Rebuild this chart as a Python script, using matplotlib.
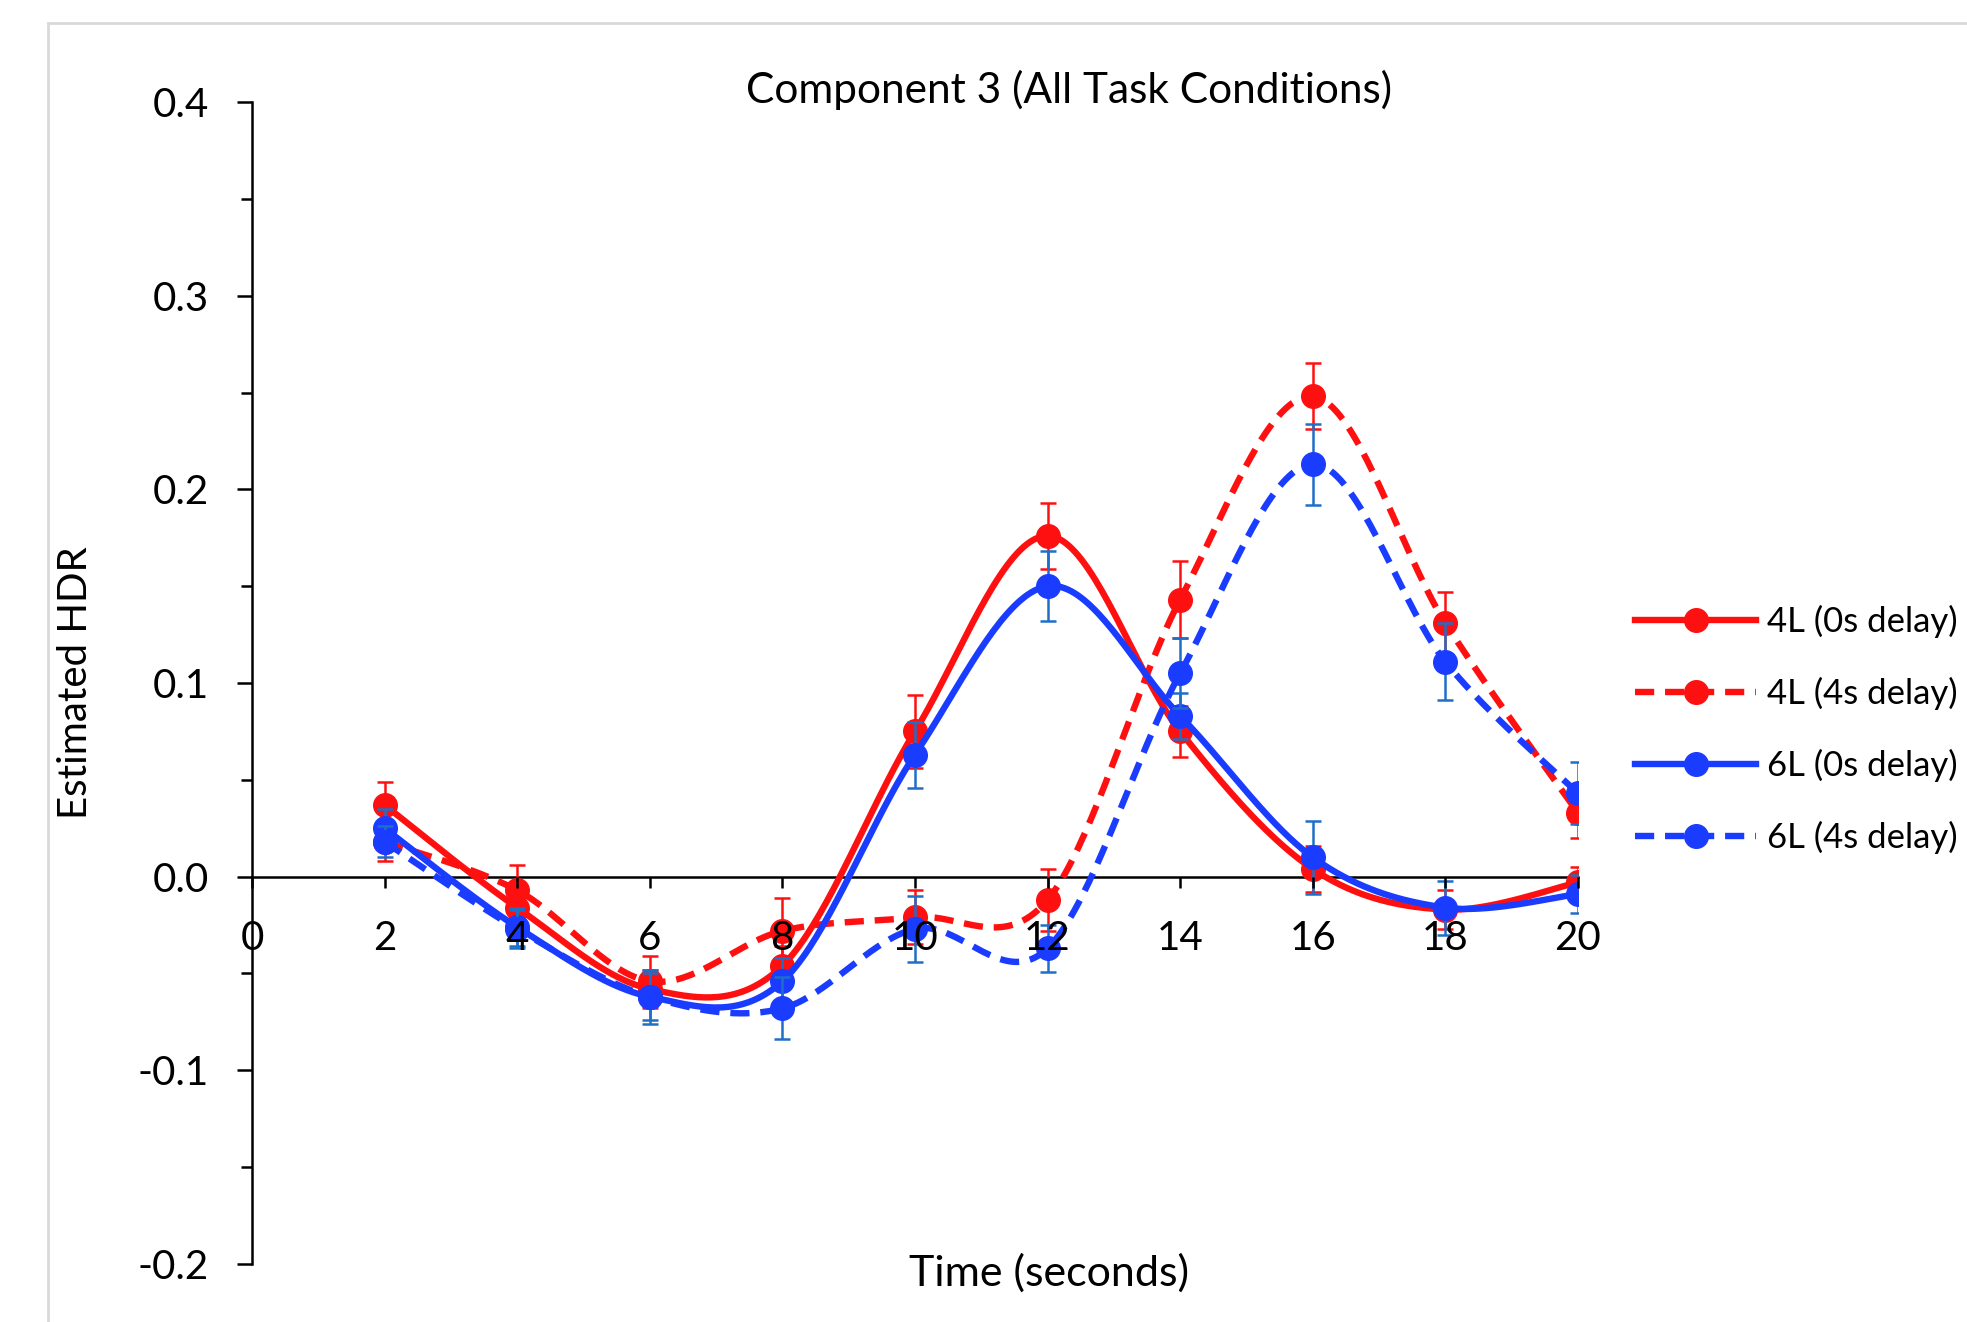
import numpy as np
import matplotlib
matplotlib.use("Agg")
import matplotlib.pyplot as plt
from matplotlib.patches import Rectangle
from matplotlib.ticker import MultipleLocator, FuncFormatter

plt.rcParams['font.family'] = ['Lato', 'DejaVu Sans']

# data
time = [2, 4, 6, 8, 10, 12, 14, 16, 18, 20]

l4_0s = [0.037, -0.016, -0.058, -0.046, 0.075, 0.176, 0.075, 0.004, -0.017, -0.003]
l4_0s_err = [0.012, 0.010, 0.010, 0.010, 0.019, 0.017, 0.013, 0.012, 0.010, 0.008]

l4_4s = [0.018, -0.007, -0.054, -0.028, -0.021, -0.012, 0.143, 0.248, 0.131, 0.033]
l4_4s_err = [0.010, 0.013, 0.013, 0.017, 0.014, 0.016, 0.020, 0.017, 0.016, 0.013]

l6_0s = [0.025, -0.026, -0.062, -0.054, 0.063, 0.150, 0.083, 0.010, -0.016, -0.009]
l6_0s_err = [0.010, 0.010, 0.012, 0.012, 0.017, 0.018, 0.012, 0.019, 0.014, 0.010]

l6_4s = [0.018, -0.027, -0.062, -0.068, -0.027, -0.037, 0.105, 0.213, 0.111, 0.043]
l6_4s_err = [0.008, 0.010, 0.014, 0.016, 0.017, 0.012, 0.018, 0.021, 0.020, 0.016]

labels = ['4L (0s delay)', '4L (4s delay)', '6L (0s delay)', '6L (4s delay)']

RED = '#ff1010'
BLUE = '#1a3cff'
ERR_BLUE = '#1f6fc8'


def smooth(xs, ys, n=40):
    # Excel-style smoothed line (Catmull-Rom as cubic bezier)
    xs = np.asarray(xs, float)
    ys = np.asarray(ys, float)
    px = np.concatenate([[xs[0]], xs, [xs[-1]]])
    py = np.concatenate([[ys[0]], ys, [ys[-1]]])
    outx, outy = [], []
    t = np.linspace(0, 1, n)
    for i in range(1, len(px) - 2):
        p0 = np.array([px[i], py[i]])
        p3 = np.array([px[i + 1], py[i + 1]])
        p1 = p0 + (np.array([px[i + 1], py[i + 1]]) - np.array([px[i - 1], py[i - 1]])) / 6
        p2 = p3 - (np.array([px[i + 2], py[i + 2]]) - np.array([px[i], py[i]])) / 6
        b = ((1 - t) ** 3)[:, None] * p0 + (3 * (1 - t) ** 2 * t)[:, None] * p1 \
            + (3 * (1 - t) * t ** 2)[:, None] * p2 + (t ** 3)[:, None] * p3
        outx.extend(b[:, 0])
        outy.extend(b[:, 1])
    return outx, outy


fig = plt.figure(figsize=(19.67, 13.22), dpi=100)
ax = fig.add_axes([0.1281, 0.0439, 0.6741, 0.8789])

# light chart-area frame
fig.patches.append(Rectangle((48 / 1967, -0.1), 1.2, 1 - 23 / 1322 + 0.1,
                             transform=fig.transFigure, fill=False,
                             edgecolor='#d9d9d9', lw=2, zorder=0))

series = [
    (l4_0s, l4_0s_err, RED, RED, '-'),
    (l4_4s, l4_4s_err, RED, RED, '--'),
    (l6_0s, l6_0s_err, BLUE, ERR_BLUE, '-'),
    (l6_4s, l6_4s_err, BLUE, ERR_BLUE, '--'),
]

LW = 4.6
MS = 17
DASH = (3.0, 1.7)

handles = []
for k, (vals, err, col, ecol, ls) in enumerate(series):
    ax.errorbar(time, vals, yerr=err, fmt='none', ecolor=ecol, elinewidth=1.8,
                capsize=5.5, capthick=1.8, zorder=3 + k)
    sx, sy = smooth(time, vals)
    line, = ax.plot(sx, sy, color=col, lw=LW, ls=ls, zorder=3 + k)
    if ls == '--':
        line.set_dashes(DASH)
    ax.plot(time, vals, 'o', color=col, ms=MS, zorder=3 + k)
    h, = ax.plot([], [], color=col, lw=LW, ls=ls, marker='o', ms=MS,
                 label=labels[k])
    if ls == '--':
        h.set_dashes(DASH)
    handles.append(h)

ax.set_xlim(0, 20)
ax.set_ylim(-0.2, 0.4)

for s in ['top', 'right']:
    ax.spines[s].set_visible(False)
ax.spines['bottom'].set_position(('data', 0))
ax.spines['bottom'].set_linewidth(1.8)
ax.spines['left'].set_linewidth(1.8)
# x tick labels sit on top of the curves, like in Excel
ax.xaxis.set_zorder(10)

ax.xaxis.set_major_locator(MultipleLocator(2))
ax.yaxis.set_major_locator(MultipleLocator(0.1))
ax.yaxis.set_minor_locator(MultipleLocator(0.05))
ax.yaxis.set_major_formatter(FuncFormatter(lambda v, p: f'{v:.1f}'))

ax.tick_params(axis='x', direction='out', length=8, width=1.8,
               labelsize=29, pad=23)
ax.tick_params(axis='y', which='major', direction='out', length=11, width=1.8,
               labelsize=29, pad=20)
ax.tick_params(axis='y', which='minor', direction='out', length=8, width=1.8)

ax.set_ylabel('Estimated HDR', fontsize=29)
ax.yaxis.set_label_coords(-0.119, 0.5)

fig.text(1049 / 1967, 1 - 1273 / 1322, 'Time (seconds)', fontsize=31,
         ha='center', va='center')
fig.text(1069 / 1967, 1 - 90 / 1322, 'Component 3 (All Task Conditions)',
         fontsize=30.5, ha='center', va='center')

ax.legend(handles=handles, loc='center left', bbox_to_anchor=(1.043, 0.460),
          frameon=False, fontsize=25, handlelength=3.5, handletextpad=0.3,
          labelspacing=1.12, borderaxespad=0, borderpad=0)

fig.savefig('out.png', dpi=100)
